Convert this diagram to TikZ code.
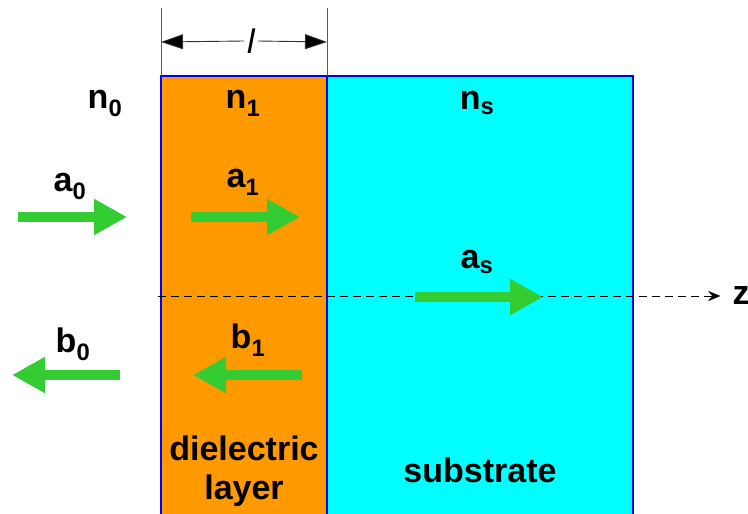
\documentclass[tikz,border=0pt]{standalone}
\usepackage{fontspec}
\setmainfont{Liberation Sans}
\usetikzlibrary{arrows.meta}
\definecolor{layerorange}{HTML}{FF9900}
\definecolor{subcyan}{HTML}{00FFFF}
\definecolor{wavegreen}{HTML}{33CC33}
\begin{document}
\begin{tikzpicture}[x=1pt, y=-1pt,
    every node/.style={font=\fontsize{34}{39}\selectfont\bfseries, inner sep=0pt},
    wave/.style={wavegreen, line width=10.5pt, -{Triangle[length=33pt, width=34pt]}},
    slab/.style={draw=blue, line width=2.2pt}]
  \useasboundingbox (0,0) rectangle (748,514);
  \clip (0,0) rectangle (748,514);

  % layers
  \fill[layerorange] (161,76) rectangle (327,530);
  \fill[subcyan] (327,76) rectangle (633,530);
  \draw[slab] (161,530) -- (161,76) -- (327,76) -- (327,530);
  \draw[slab] (327,76) -- (633,76) -- (633,530);

  % thickness l
  \draw[gray!70!black, thin] (161,8) -- (161,76);
  \draw[gray!70!black, thin] (327,8) -- (327,76);
  \node[fill=white, inner sep=3pt, font=\fontsize{34}{39}\selectfont\itshape] (thick) at (251,41) {l};
  \draw[gray!40!black, line width=0.9pt, -{Triangle[length=22pt, width=15pt, fill=black]}] (thick.west) -- (161,42);
  \draw[gray!40!black, line width=0.9pt, -{Triangle[length=22pt, width=15pt, fill=black]}] (thick.east) -- (327,42);

  % indices
  \node (n0) at (105,103) {n\textsubscript{0}};
  \node (n1) at (243,103) {n\textsubscript{1}};
  \node (ns) at (477,103) {n\textsubscript{s}};

  % z axis
  \node (z) at (741,296) {z};
  \coordinate (zstart) at (158,296);
  \draw[black, thin, dash pattern=on 8pt off 5pt, -{Stealth[length=12pt, width=10pt]}] (zstart) -- ([xshift=-12pt]z.west);

  % waves
  \coordinate (a0s) at (18,217);   \coordinate (a0e) at (127,217);
  \coordinate (a1s) at (191,217);  \coordinate (a1e) at (300,217);
  \coordinate (ass) at (415,297);  \coordinate (ase) at (543,297);
  \coordinate (b0s) at (120,375);  \coordinate (b0e) at (12,375);
  \coordinate (b1s) at (302,375);  \coordinate (b1e) at (193,375);
  \draw[wave] (a0s) -- (a0e);
  \draw[wave] (a1s) -- (a1e);
  \draw[wave] (ass) -- (ase);
  \draw[wave] (b0s) -- (b0e);
  \draw[wave] (b1s) -- (b1e);
  \node (a0) at (70,186) {a\textsubscript{0}};
  \node (a1) at (243,182) {a\textsubscript{1}};
  \node (as) at (477,262) {a\textsubscript{s}};
  \node (b0) at (73,344) {b\textsubscript{0}};
  \node (b1) at (248,340) {b\textsubscript{1}};

  % names
  \node[align=center] (diel) at (244,471) {dielectric\\layer};
  \node (subs) at (480,470) {substrate};
\end{tikzpicture}
\end{document}
